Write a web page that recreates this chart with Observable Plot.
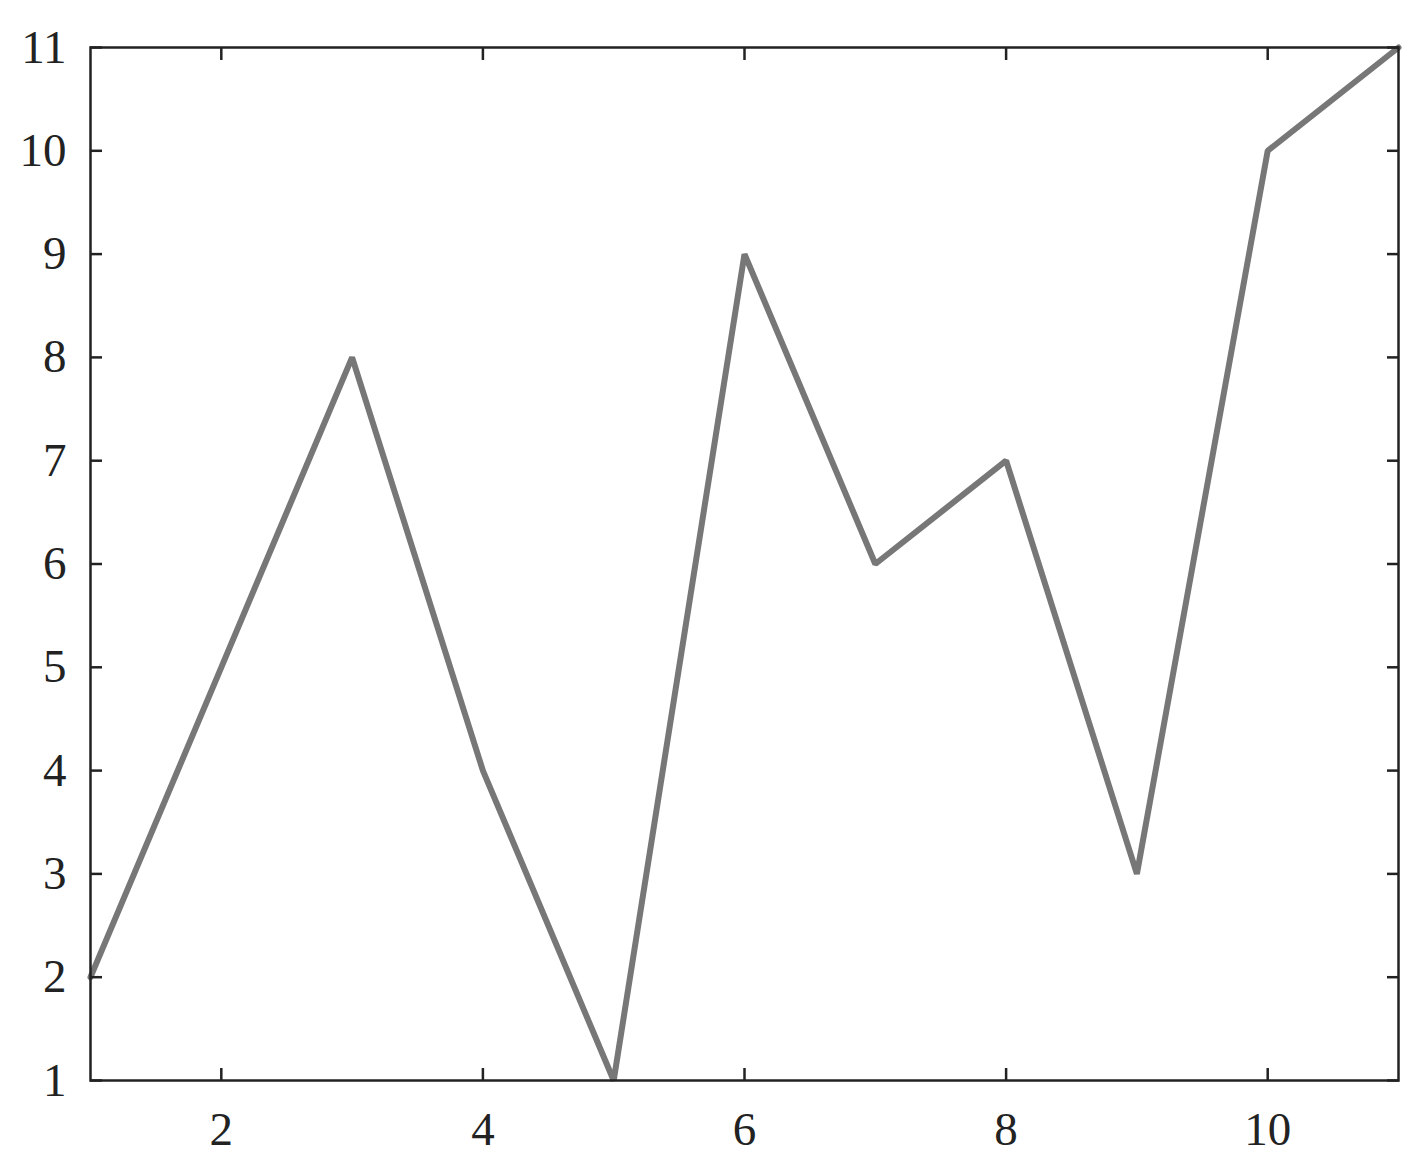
<!DOCTYPE html>
<html>
<head>
<meta charset="utf-8">
<script src="https://cdn.jsdelivr.net/npm/d3@7"></script>
<script src="https://cdn.jsdelivr.net/npm/@observablehq/plot@0.6"></script>
<style>
  html, body { margin: 0; padding: 0; background: #fff; }
</style>
</head>
<body>
<div id="chart"></div>
<script>
const xValues = [1, 2, 3, 4, 5, 6, 7, 8, 9, 10, 11];
const yValues = [2, 5, 8, 4, 1, 9, 6, 7, 3, 10, 11];
const xTicks = [2, 4, 6, 8, 10];
const yTicks = [1, 2, 3, 4, 5, 6, 7, 8, 9, 10, 11];

const data = xValues.map((x, i) => ({x, y: yValues[i]}));
const fs = 47;
const ink = "#222";
const fmt = d3.format("d");

const chart = Plot.plot({
  width: 1419,
  height: 1165,
  marginLeft: 90,
  marginTop: 47,
  marginRight: 21,
  marginBottom: 85,
  style: {fontFamily: "Liberation Serif, Times New Roman, serif", background: "#fff", color: ink},
  x: {domain: [1, 11], label: null},
  y: {domain: [1, 11], label: null},
  marks: [
    Plot.line(data, {x: "x", y: "y", stroke: "#777", strokeWidth: 6, strokeLinejoin: "miter"}),
    Plot.frame({stroke: ink, strokeWidth: 2.5}),
    Plot.axisX(xTicks, {anchor: "bottom", label: null, tickFormat: fmt, tickSize: 0, tickPadding: 31, fontSize: fs, fill: ink}),
    Plot.axisX(xTicks, {anchor: "bottom", label: null, tickSize: 12, dy: -12, text: null, stroke: ink, strokeWidth: 2.5}),
    Plot.axisX(xTicks, {anchor: "top", label: null, tickSize: 12, dy: 12, text: null, stroke: ink, strokeWidth: 2.5}),
    Plot.axisY(yTicks, {anchor: "left", label: null, tickFormat: fmt, tickSize: 0, tickPadding: 24, fontSize: fs, fill: ink}),
    Plot.axisY(yTicks, {anchor: "left", label: null, tickSize: 12, dx: 12, text: null, stroke: ink, strokeWidth: 2.5}),
    Plot.axisY(yTicks, {anchor: "right", label: null, tickSize: 12, dx: -12, text: null, stroke: ink, strokeWidth: 2.5})
  ]
});
document.getElementById("chart").appendChild(chart);
</script>
</body>
</html>
